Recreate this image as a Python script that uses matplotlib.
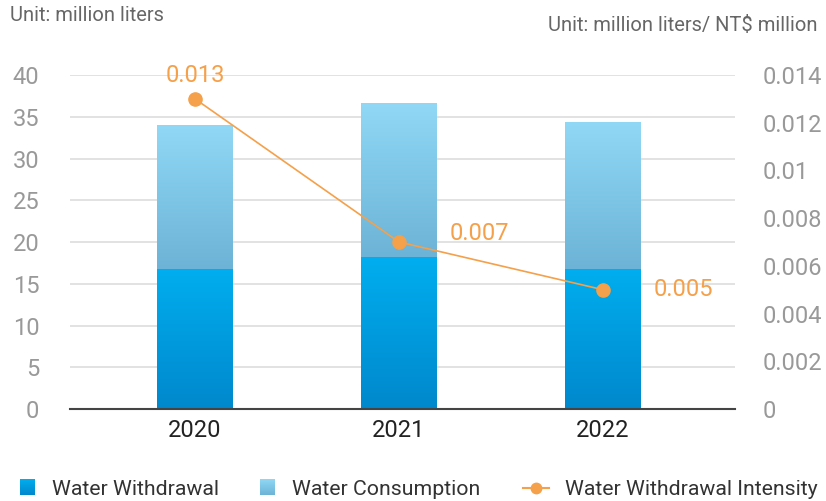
import matplotlib
matplotlib.use("Agg")
import matplotlib.pyplot as plt
import numpy as np
from matplotlib.colors import LinearSegmentedColormap
from matplotlib.lines import Line2D

plt.rcParams['font.family'] = ['Roboto', 'DejaVu Sans']

years = ['2020', '2021', '2022']
withdrawal_part = [16.8, 18.2, 16.8]
consumption_part = [17.2, 18.4, 17.6]
intensity = [0.013, 0.007, 0.005]
intensity_labels = ['0.013', '0.007', '0.005']
legend_names = ['Water Withdrawal', 'Water Consumption', 'Water Withdrawal Intensity']

orange = '#f5a04a'
grey = '#999999'
W, H = 826, 501

fig = plt.figure(figsize=(8.26, 5.01), dpi=100)
ax = fig.add_axes([0.0847, 0.1836, 0.8051, 0.6667])
ax2 = ax.twinx()

x = np.arange(len(years))
w = 0.37

b1 = ax.bar(x, withdrawal_part, w, color='#009bdf', zorder=2)
b2 = ax.bar(x, consumption_part, w, bottom=withdrawal_part, color='#7fcbec', zorder=2)

# vertical gradients inside the bars
grad = np.linspace(0, 1, 256).reshape(-1, 1)
cm1 = LinearSegmentedColormap.from_list('w', ['#0088cc', '#00aeef'])
cm2 = LinearSegmentedColormap.from_list('c', ['#6cb3d7', '#90d8f5'])
for bars, cm in [(b1, cm1), (b2, cm2)]:
    for r in bars:
        x0, y0 = r.get_x(), r.get_y()
        im = ax.imshow(grad, cmap=cm, origin='lower', aspect='auto',
                       extent=[x0, x0 + r.get_width(), y0, y0 + r.get_height()], zorder=2)
        im.set_clip_path(r)

ax.set_xlim(-0.613, 2.647)
ax.set_ylim(0, 40)
ax.set_yticks(range(0, 41, 5))
ax.set_xticks(x)
ax.set_xticklabels(years)
ax.grid(axis='y', color='#dddddd', linewidth=1.2, zorder=0)
ax.set_axisbelow(True)
for s in ['top', 'right', 'left']:
    ax.spines[s].set_visible(False)
ax.spines['bottom'].set_color('#444444')
ax.spines['bottom'].set_linewidth(1.5)
ax.tick_params(axis='y', length=0, labelsize=17, labelcolor=grey, pad=22)
ax.tick_params(axis='x', length=0, labelsize=17, labelcolor='#222222', pad=7)

ax2.plot(x, intensity, color=orange, linewidth=1.2, marker='o', markersize=9.5, zorder=3)
ax2.set_ylim(0, 0.014)
ax2.set_yticks([0, 0.002, 0.004, 0.006, 0.008, 0.01, 0.012, 0.014])
ax2.set_yticklabels(['0', '0.002', '0.004', '0.006', '0.008', '0.01', '0.012', '0.014'])
ax2.tick_params(axis='y', length=0, labelsize=17, labelcolor=grey, pad=20)
for s in ax2.spines.values():
    s.set_visible(False)

offsets = [(0, 17), (58, 6), (58, 0)]
for xi, v, lab, off in zip(x, intensity, intensity_labels, offsets):
    ax2.annotate(lab, (xi, v), xytext=off, textcoords='offset points',
                 ha='center', va='center', fontsize=17, color=orange)

fig.text(0.012, 0.97, 'Unit: million liters', fontsize=14.5, color='#666666', va='center')
fig.text(0.99, 0.95, 'Unit: million liters/ NT$ million', fontsize=14.5, color='#666666',
         va='center', ha='right')

# legend drawn by hand (gradient squares + line marker)
ly = (H - 488) / H
for px, cm in [(20, cm1), (260, cm2)]:
    sq = fig.add_axes([px / W, (H - 495) / H, 15 / W, 16 / H])
    sq.imshow(grad, cmap=cm, origin='lower', aspect='auto')
    sq.axis('off')
fig.add_artist(Line2D([523 / W, 549 / W], [ly, ly], color=orange, linewidth=1.5,
                      transform=fig.transFigure))
fig.add_artist(Line2D([536 / W], [ly], color=orange, marker='o', markersize=7.5,
                      transform=fig.transFigure))
for px, name in zip([52, 292, 565], legend_names):
    fig.text(px / W, (H - 489.5) / H, name, fontsize=15.3, color='#333333', va='center')

fig.savefig('out.png', dpi=100)
